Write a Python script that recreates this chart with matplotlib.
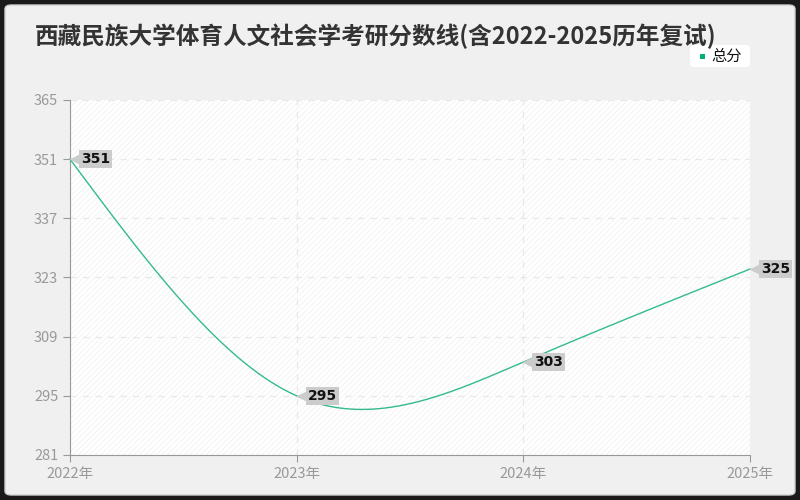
import numpy as np
import matplotlib.pyplot as plt
import matplotlib.transforms as mtransforms
from matplotlib.patches import FancyBboxPatch, Rectangle

plt.rcParams['font.family'] = ['Noto Sans CJK SC', 'DejaVu Sans']
plt.rcParams['hatch.linewidth'] = 0.5

# datos del gráfico
anios = [2022, 2023, 2024, 2025]
etiquetas_x = ['2022年', '2023年', '2024年', '2025年']
total = [351, 295, 303, 325]
ticks_y = [281, 295, 309, 323, 337, 351, 365]
titulo = '西藏民族大学体育人文社会学考研分数线(含2022-2025历年复试)'
serie = '总分'

verde = '#33bb8c'

fig = plt.figure(figsize=(8, 5), dpi=100)
fig.patch.set_facecolor('#1a1a1a')
tarjeta = FancyBboxPatch((5 / 800, 5 / 500), 790 / 800, 490 / 500,
                         boxstyle='round,pad=0,rounding_size=0.008',
                         transform=fig.transFigure, fc='#f0f0f0', ec='#d0d0d0', lw=1, zorder=-10)
fig.add_artist(tarjeta)

ax = fig.add_axes([70 / 800, 45 / 500, 680 / 800, 355 / 500])
ax.set_xlim(2022, 2025)
ax.set_ylim(281, 365)
ax.set_facecolor('white')
ax.add_patch(Rectangle((0, 0), 1, 1, transform=ax.transAxes, fc='none',
                       ec='#efefef', hatch='//////', lw=0, zorder=0))


# spline cúbico natural (sin scipy)
def spline_natural(xs, ys, n=80):
    x = np.array(xs, dtype=float)
    y = np.array(ys, dtype=float)
    k = len(x)
    h = np.diff(x)
    A = np.zeros((k, k))
    b = np.zeros(k)
    A[0, 0] = A[-1, -1] = 1
    for i in range(1, k - 1):
        A[i, i - 1] = h[i - 1]
        A[i, i] = 2 * (h[i - 1] + h[i])
        A[i, i + 1] = h[i]
        b[i] = 6 * ((y[i + 1] - y[i]) / h[i] - (y[i] - y[i - 1]) / h[i - 1])
    M = np.linalg.solve(A, b)
    xx, yy = [], []
    for i in range(k - 1):
        t = np.linspace(x[i], x[i + 1], n)
        a = x[i + 1] - t
        c = t - x[i]
        s = (M[i] * a ** 3 + M[i + 1] * c ** 3) / (6 * h[i]) \
            + (y[i] / h[i] - M[i] * h[i] / 6) * a + (y[i + 1] / h[i] - M[i + 1] * h[i] / 6) * c
        xx.append(t)
        yy.append(s)
    return np.concatenate(xx), np.concatenate(yy)


cx, cy = spline_natural(anios, total)
ax.plot(cx, cy, color=verde, lw=1, zorder=3, clip_on=False)

# etiquetas con flecha
for x, y in zip(anios, total):
    tr = mtransforms.offset_copy(ax.transData, fig=fig, x=5, y=0, units='dots')
    ax.plot([x], [y], marker='<', ms=9, color='#cccccc', mec='none', transform=tr,
            zorder=4, clip_on=False)
    ax.annotate(str(y), (x, y), xytext=(8, 0), textcoords='offset points',
                ha='left', va='center', fontsize=10, fontweight='bold', color='#111111',
                family='DejaVu Sans',
                bbox=dict(boxstyle='square,pad=0.15', fc='#cccccc', ec='none'),
                zorder=5, annotation_clip=False)

ax.set_xticks(anios)
ax.set_xticklabels(etiquetas_x)
ax.set_yticks(ticks_y)
ax.tick_params(colors='#999999', labelsize=10.5, length=5, width=0.8)
ax.tick_params(axis='both', labelcolor='#999999')
ax.grid(True, ls=(0, (5, 5)), color='#e8e8e8', lw=0.9)
for lado in ['top', 'right']:
    ax.spines[lado].set_visible(False)
for lado in ['left', 'bottom']:
    ax.spines[lado].set_color('#999999')
    ax.spines[lado].set_linewidth(0.8)
ax.set_axisbelow(True)

fig.text(35 / 800, 1 - 36 / 500, titulo, fontsize=17, fontweight='bold',
         color='#333333', va='center', ha='left')

# leyenda
fig.add_artist(FancyBboxPatch((690 / 800, 1 - 67 / 500), 60 / 800, 22 / 500,
                              boxstyle='round,pad=0,rounding_size=0.006',
                              transform=fig.transFigure, fc='white', ec='none'))
fig.add_artist(Rectangle((700 / 800, 1 - 59 / 500), 5 / 800, 5 / 500,
                         transform=fig.transFigure, fc='#00b075', ec='none'))
fig.text(711 / 800, 1 - 56 / 500, serie, fontsize=11, color='#111111', va='center', ha='left')

fig.savefig('out.png', dpi=100, facecolor=fig.get_facecolor())
